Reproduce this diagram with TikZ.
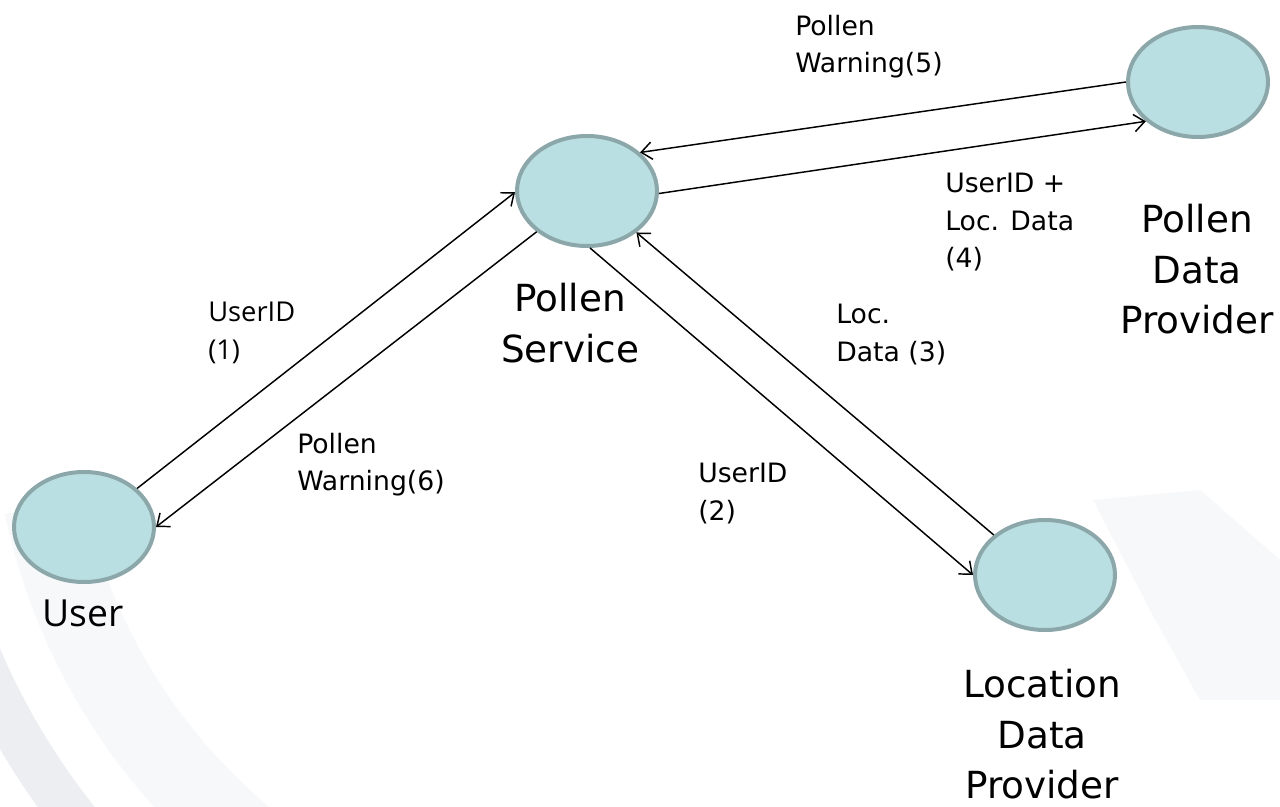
\documentclass[tikz,border=0pt]{standalone}
\usepackage{fontspec}
\setmainfont{DejaVu Sans}
\newfontfamily\segfont{Open Sans}
\usetikzlibrary{shapes.geometric,arrows.meta}
\definecolor{efill}{HTML}{B9DFE2}
\definecolor{eline}{HTML}{8CA7A9}
\definecolor{bgA}{HTML}{ECEEF1}
\definecolor{bgB}{HTML}{F7F8FA}
\begin{document}
\begin{tikzpicture}[x=0.75pt,y=-0.75pt,
  actor/.style={ellipse, draw=eline, fill=efill, line width=3pt,
    minimum width=105pt, minimum height=82.5pt, inner sep=0pt},
  msg/.style={-{Straight Barb[length=8pt,width=13pt]}, line width=1.1pt, black},
  small/.style={font=\fontsize{20}{28}\selectfont, align=left, anchor=north west, inner sep=0pt},
  smallseg/.style={font=\segfont\fontsize{20.5}{28}\selectfont, align=left, anchor=north west, inner sep=0pt},
  big/.style={font=\fontsize{28}{38}\selectfont, align=center, anchor=north, inner sep=0pt}]
\useasboundingbox (0,0) rectangle (1280,806);
\fill[white] (0,0) rectangle (1280,806);
% faint background decoration
\begin{scope}
\clip (0,0) rectangle (1280,806);
\draw[bgA, line width=34pt] (626,382) ++(160:703) arc[start angle=160, end angle=118, radius=703];
\draw[bgB, line width=60pt] (626,382) ++(168:595) arc[start angle=168, end angle=112, radius=595];
\fill[bgB] (1093,500) -- (1200,490) -- (1280,560) -- (1280,700) -- (1200,700) -- (1150,610) -- cycle;
\end{scope}
% nodes
\node[actor] (svc) at (587,191) {};
\node[actor] (user) at (84,527) {};
\node[actor] (loc) at (1045,575) {};
\node[actor] (pdp) at (1198,82) {};
% connectors
\draw[msg] (user.36.5) -- (svc.181.6);
\draw[msg] (svc.219.4) -- (user.0.8);
\draw[msg] (svc.273) -- (loc.180);
\draw[msg] (loc.142.8) -- (svc.320.5);
\draw[msg] (svc.358.4) -- (pdp.217.4);
\draw[msg] (pdp.180.8) -- (svc.36.7);
% labels
\node[smallseg] (l1) at (208,302) {UserID\\(1)};
\node[small] (l6) at (297,433) {Pollen\\Warning(6)};
\node[small] (l2) at (698,463) {UserID\\(2)};
\node[small] (l3) at (836,304) {Loc.\\Data (3)};
\node[small] (l4) at (945,173) {UserID +\\Loc. Data\\(4)};
\node[small] (l5) at (795,15) {Pollen\\Warning(5)};
\node[big] (tsvc) at (570,283) {Pollen\\Service};
\node[big] (tpdp) at (1197,204) {Pollen\\Data\\Provider};
\node[big] (tloc) at (1042,669) {Location\\Data\\Provider};
\node[font=\segfont\fontsize{28}{34}\selectfont, anchor=north west, inner sep=0pt] (tuser) at (42,600) {User};
\end{tikzpicture}
\end{document}
